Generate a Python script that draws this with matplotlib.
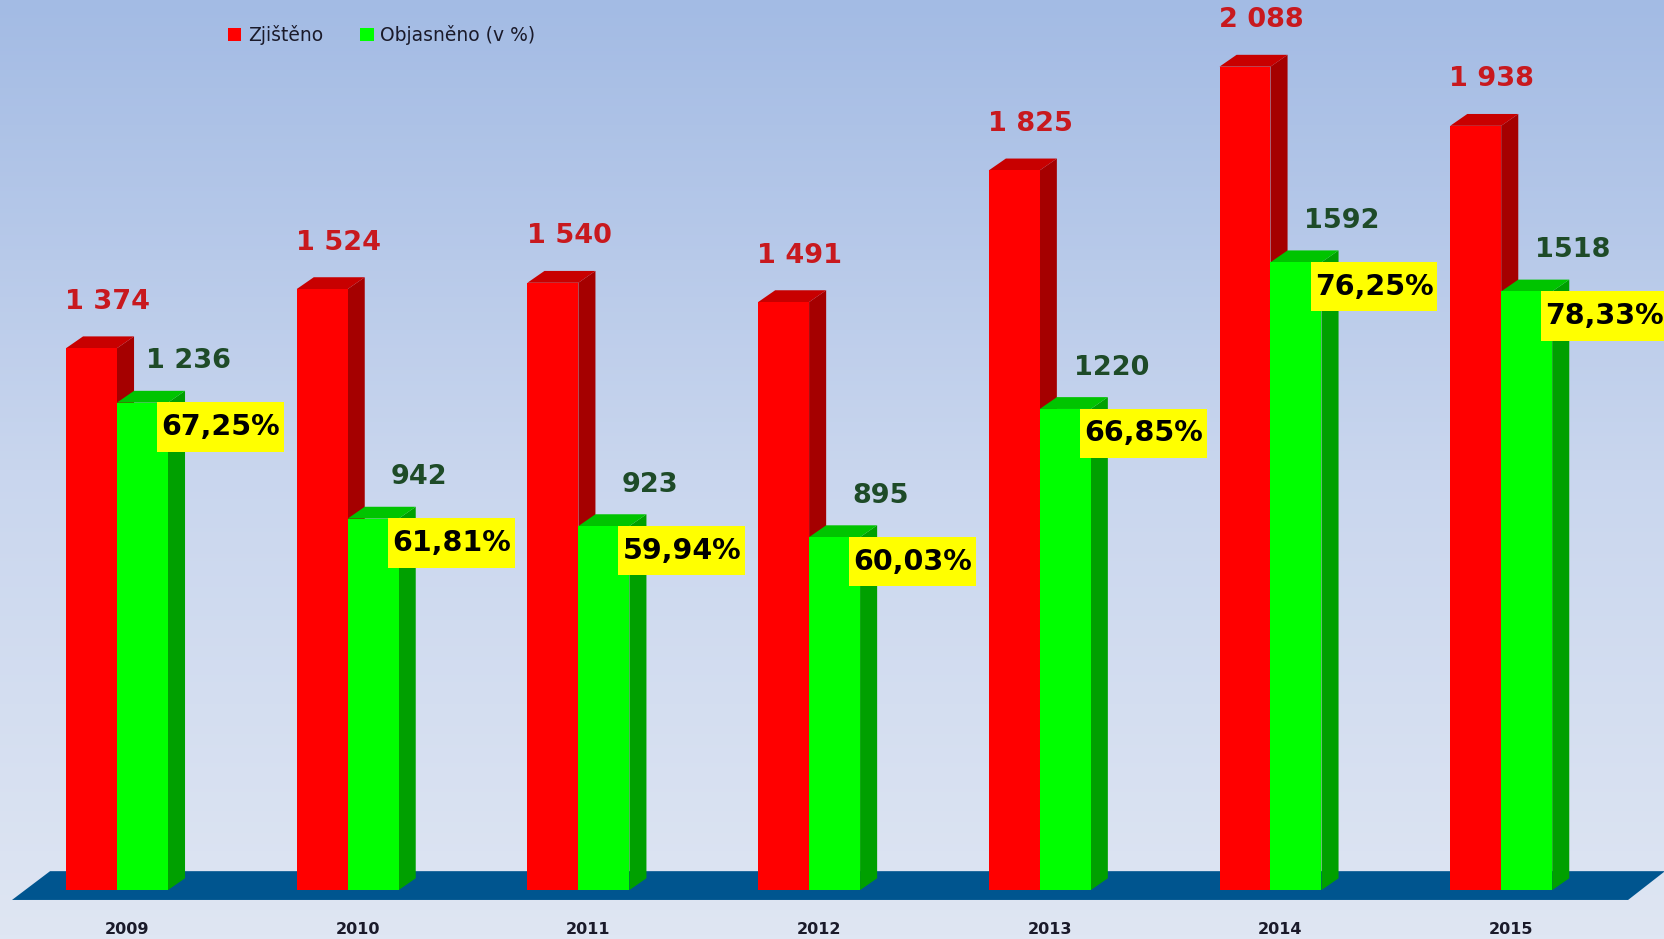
import numpy as np
import matplotlib.pyplot as plt
from matplotlib.patches import Polygon, Rectangle, Patch
from matplotlib.colors import LinearSegmentedColormap

# data
years = ['2009', '2010', '2011', '2012', '2013', '2014', '2015']
zjisteno = [1374, 1524, 1540, 1491, 1825, 2088, 1938]
objasneno = [1236, 942, 923, 895, 1220, 1592, 1518]
red_labels = ['1 374', '1 524', '1 540', '1 491', '1 825', '2 088', '1 938']
green_labels = ['1 236', '942', '923', '895', '1220', '1592', '1518']
procenta = ['67,25%', '61,81%', '59,94%', '60,03%', '66,85%', '76,25%', '78,33%']

XL = (-0.507, 6.71)
YL = (-124, 2257)

fig = plt.figure(figsize=(16.65, 9.39), dpi=100)
ax = fig.add_axes([0, 0, 1, 1])
ax.set_xlim(*XL)
ax.set_ylim(*YL)
ax.axis('off')

# background gradient
bg = LinearSegmentedColormap.from_list('bg', ['#dfe6f3', '#c9d6ee', '#a3bbe4'])
ax.imshow(np.linspace(0, 1, 256).reshape(-1, 1), cmap=bg, origin='lower',
          extent=(XL[0], XL[1], YL[0], YL[1]), aspect='auto', zorder=0)

# floor
ax.add_patch(Polygon([(-0.455, -25), (6.55, -25), (6.71, 48), (-0.29, 48)],
                     closed=True, facecolor='#00558f', edgecolor='none', zorder=1))

w = 0.221    # bar width
dx = 0.074   # depth
dy = 30
box_w, box_h = 0.55, 125   # yellow label box


def bar3d(x0, h, front, side, top):
    ax.add_patch(Polygon([(x0 + w, 0), (x0 + w + dx, dy), (x0 + w + dx, h + dy), (x0 + w, h)],
                         facecolor=side, edgecolor='none', zorder=2))
    ax.add_patch(Polygon([(x0, h), (x0 + w, h), (x0 + w + dx, h + dy), (x0 + dx, h + dy)],
                         facecolor=top, edgecolor='none', zorder=2))
    ax.add_patch(Rectangle((x0, 0), w, h, facecolor=front, edgecolor='none', zorder=2))


for i in range(len(years)):
    bar3d(i - w, zjisteno[i], '#ff0000', '#a50000', '#c80000')
    bar3d(i, objasneno[i], '#00ff00', '#00a000', '#00c400')

    ax.text(i - w / 2 + 0.07, zjisteno[i] + 118, red_labels[i], ha='center', va='center',
            fontsize=19.5, fontweight='bold', color='#c8191e', zorder=5)
    ax.text(i + w / 2 + 0.2, objasneno[i] + 105, green_labels[i], ha='center', va='center',
            fontsize=19.5, fontweight='bold', color='#1e4b28', zorder=5)
    cx, cy = i + w / 2 + 0.338, objasneno[i] - 62
    ax.add_patch(Rectangle((cx - box_w / 2, cy - box_h / 2), box_w, box_h,
                           facecolor='#ffff00', edgecolor='none', zorder=6))
    ax.text(cx, cy, procenta[i], ha='center', va='center',
            fontsize=20.5, fontweight='bold', color='black', zorder=7)
    ax.text(i + 0.043, -99, years[i], ha='center', va='center',
            fontsize=11.5, fontweight='bold', color='#1a1a2a', zorder=5)

handles = [Patch(facecolor='#ff0000', edgecolor='none', label='Zjištěno'),
           Patch(facecolor='#00ff00', edgecolor='none', label='Objasněno (v %)')]
fig.legend(handles=handles, loc='upper left', bbox_to_anchor=(0.137, 0.973), ncol=2,
           frameon=False, fontsize=13.5, handlelength=0.7, handleheight=0.7,
           handletextpad=0.35, columnspacing=2.0, borderpad=0, borderaxespad=0,
           labelcolor='#1a1a2a')

fig.savefig('out.png', dpi=100)
